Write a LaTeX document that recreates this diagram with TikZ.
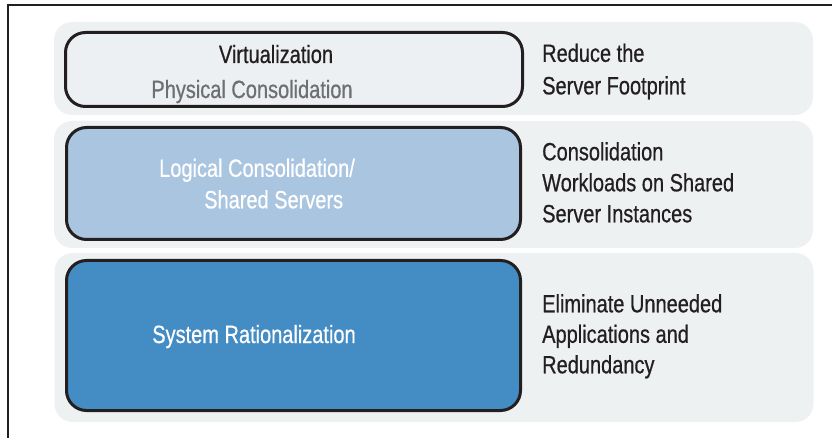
\documentclass[tikz,border=0pt]{standalone}
\usepackage{fontspec}
\setmainfont{Liberation Sans}[FakeStretch=0.8,FakeBold=0.6]
\definecolor{ink}{HTML}{231F20}
\definecolor{panelgray}{HTML}{EEF1F2}
\definecolor{paletier}{HTML}{EDF0F2}
\definecolor{midtier}{HTML}{A9C5E0}
\definecolor{deeptier}{HTML}{448CC4}
\definecolor{softtext}{HTML}{6D6F71}
\begin{document}
\begin{tikzpicture}[x=1pt,y=-1pt,
  panel/.style={fill=panelgray, draw=none, rounded corners=18pt,
    minimum width=759pt, inner sep=0pt},
  tier/.style={draw=ink, line width=3pt, rounded corners=20pt,
    minimum width=454pt, inner sep=0pt},
  label/.style={font=\fontsize{25}{31.5}\selectfont, inner sep=0pt,
    anchor=base west, align=left},
  desc/.style={label, text=ink}]
  \useasboundingbox (0,0) rectangle (832,438);

  % outer frame: left and top edges only
  \coordinate (frame-bl) at (8,440);
  \coordinate (frame-tr) at (834,5);
  \draw[ink, line width=1.5pt] (frame-bl) |- (frame-tr);

  % background bands
  \node[panel, minimum height=93pt]  (band1) at (433.5,68.5)  {};
  \node[panel, minimum height=127pt] (band2) at (433.5,184.5) {};
  \node[panel, minimum height=169pt] (band3) at (434,337.5)   {};

  % tier boxes
  \node[tier, fill=paletier, minimum width=457pt, minimum height=74pt]
    (tier1) at (294,69.5) {};
  \node[tier, fill=midtier, minimum height=112pt] (tier2) at (293.5,183.5) {};
  \node[tier, fill=deeptier, minimum height=150pt] (tier3) at (293.5,335.5) {};

  % tier labels (multi-line nodes are placed by their last baseline)
  \node[label, anchor=base, text=ink] (virt) at (276,63) {Virtualization};
  \node[label, anchor=base, text=softtext] (phys) at (252,98) {Physical Consolidation};
  \node[label, text=white] (logic) at (159,208.3)
    {Logical Consolidation/\\\hspace*{45pt}Shared Servers};
  \node[label, anchor=base, text=white] (rational) at (254,343) {System Rationalization};

  % goals
  \node[desc, font=\fontsize{25}{32.5}\selectfont] (goal1) at (542,94.3)
    {Reduce the\\Server Footprint};
  \node[desc, font=\fontsize{25}{31}\selectfont] (goal2) at (542,222.3)
    {Consolidation\\Workloads on Shared\\Server Instances};
  \node[desc, font=\fontsize{25}{30.5}\selectfont] (goal3) at (542,373.3)
    {Eliminate Unneeded\\Applications and\\Redundancy};
\end{tikzpicture}
\end{document}
